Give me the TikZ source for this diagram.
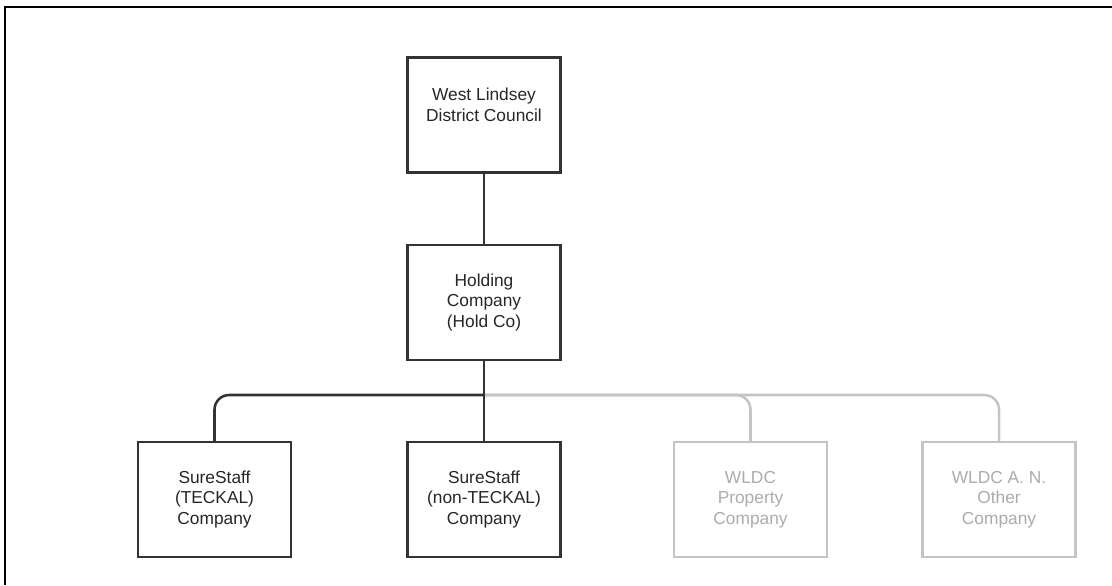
\documentclass[tikz,border=0pt]{standalone}
\usepackage{fontspec}
\setmainfont{Liberation Sans}
\usetikzlibrary{calc}
\definecolor{boxline}{HTML}{333333}
\definecolor{paleline}{HTML}{C4C4C4}
\definecolor{paletext}{HTML}{ABABAB}
\tikzset{
	orgbox/.style={draw=boxline, line width=1.9pt, minimum width=115pt, minimum height=86pt, align=center, inner sep=2pt, text=black!85, font=\fontsize{13}{15.5}\selectfont},
	palebox/.style={orgbox, draw=paleline, text=paletext},
	link/.style={draw=boxline, line width=1.9pt},
	palelink/.style={draw=paleline, line width=1.9pt},
}
\begin{document}
\begin{tikzpicture}[x=0.75pt, y=-0.75pt]
				\useasboundingbox (0,0) rectangle (1112,585);
				\draw[line width=1.5pt] (1112,7) -- (5,7) -- (5,585);
				
				\node[orgbox] (council) at (484,115) {West Lindsey\\District Council\\\mbox{}};
				\node[orgbox] (holdco) at (484,302.5) {Holding\\Company\\(Hold Co)};
				
				\node[orgbox] (teckal) at (214.5,499.5) {SureStaff\\(TECKAL)\\Company};
				\node[orgbox] (nonteckal) at (484,499.5) {SureStaff\\(non-TECKAL)\\Company};
				\node[palebox] (property) at (750.5,499.5) {WLDC\\Property\\Company};
				\node[palebox] (other) at (999,499.5) {WLDC A. N.\\Other\\Company};
				
				\coordinate (bus) at (484,395);
				\draw[palelink, rounded corners=11pt] (bus) -| (property);
				\draw[palelink, rounded corners=11pt] (bus) -| (other);
				
				\draw[link] (council) -- (holdco);
				\draw[link] (holdco) -- (nonteckal);
				\draw[link, rounded corners=11pt] (bus) -| (teckal);
			\end{tikzpicture}
\end{document}
